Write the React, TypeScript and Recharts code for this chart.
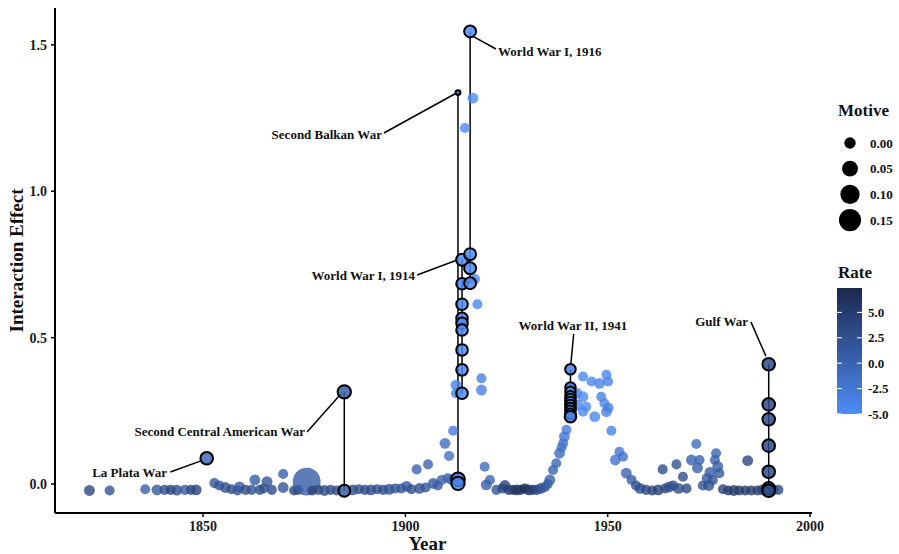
import { ScatterChart, Scatter, XAxis, YAxis, ZAxis, ReferenceLine, ReferenceDot, Label } from "recharts";

const FONT = '"Liberation Serif", "DejaVu Serif", serif';

// background points: year, interaction effect, rate, motive
const baseYears = [
  1821.9, 1826.9, 1835.7, 1838.6, 1840.5, 1842, 1843.5, 1845.5, 1847, 1848.3,
  1852.8, 1854, 1855.5, 1857, 1858.5, 1859, 1860.5, 1862, 1862.8, 1864, 1865, 1865.8, 1867, 1869.8, 1869.8,
  1872.5, 1873.5, 1875.6, 1877, 1878.5, 1880, 1881.5, 1883, 1887, 1888.5, 1890, 1891.5, 1893, 1894.5, 1896,
  1897.5, 1899, 1900.3, 1901.5, 1902.8, 1903.5, 1905, 1905.6, 1906.9, 1908, 1909, 1909.8, 1910.5, 1910.8, 1911.5, 1911.8,
  1914.7, 1916.7, 1917.2, 1917.8, 1912.5, 1912.5, 1918.8, 1918.8, 1919.6, 1920.9, 1920,
  1922.5, 1924, 1924.6, 1925.5, 1926.5, 1927.5, 1928.5, 1929.5, 1930.5, 1931.5, 1932.5, 1933.5, 1934.5,
  1935.2, 1935.7, 1936.5, 1937.3, 1938.1, 1938.6, 1939, 1939.3, 1939.8,
  1942.5, 1942.5, 1943.9, 1946, 1948, 1949.7, 1950.1, 1943.9, 1944.7, 1943.9, 1946.8, 1948.4, 1949.2, 1949.7, 1950.2,
  1950.9, 1951.9, 1952.9, 1953.8,
  1954.6, 1955.9, 1957, 1958, 1959.5, 1961, 1962.5, 1963.6, 1964.2, 1965.2, 1966.2, 1967, 1967.5, 1968.6, 1969.5,
  1970.7, 1971.9, 1972.7, 1972.2, 1973.5, 1974.5, 1975.3, 1976.8, 1976.5, 1977.2, 1977.6, 1976, 1975,
  1978.5, 1979.8, 1981.2, 1982.5, 1984, 1984.6, 1985.5, 1987, 1988.3, 1991, 1992.2,
];
const baseEffects = [
  -0.022, -0.022, -0.018, -0.02, -0.02, -0.02, -0.021, -0.02, -0.02, -0.02,
  0.003, -0.005, -0.012, -0.018, -0.022, -0.01, -0.02, -0.02, 0.014, -0.02, -0.015, 0.008, -0.02, 0.034, -0.012,
  -0.022, -0.02, 0.008, -0.022, -0.02, -0.022, -0.02, -0.022, -0.02, -0.018, -0.02, -0.02, -0.018, -0.02, -0.018,
  -0.015, -0.015, -0.008, -0.018, 0.05, -0.015, -0.012, 0.067, 0.002, -0.005, 0.014, 0.139, 0.02, 0.096, 0.015, 0.182,
  1.216, 1.318, 0.7, 0.614, 0.338, 0.31, 0.361, 0.321, 0.059, 0.014, -0.003,
  -0.02, -0.015, -0.005, -0.02, -0.02, -0.02, -0.02, -0.015, -0.02, -0.02, -0.02, -0.015, -0.01,
  0.0, 0.014, 0.048, 0.071, 0.105, 0.125, 0.139, 0.162, 0.185,
  0.31, 0.27, 0.367, 0.35, 0.344, 0.373, 0.35, 0.298, 0.264, 0.247, 0.23, 0.298, 0.276, 0.247, 0.26,
  0.182, 0.082, 0.11, 0.093,
  0.037, 0.014, -0.005, -0.015, -0.02, -0.022, -0.02, 0.05, -0.015, -0.01, -0.005, 0.067, -0.015, 0.025, -0.015,
  0.082, 0.137, 0.082, 0.055, -0.005, 0.02, 0.04, 0.105, 0.082, 0.06, 0.037, 0.014, -0.005,
  -0.018, -0.022, -0.022, -0.022, -0.022, 0.08, -0.022, -0.022, -0.02, -0.02, -0.02,
];
const baseRates = [
  3.5, 2, 0.5, 1.5, 2.5, 4, 3, 1, 3.5, 4,
  1.5, 2, 2.5, 3, 2, 1.5, 3, 2.5, 1, 3, 2.5, 2, 3, 0.5, 2,
  4, 3.5, 1, 4, 3.5, 3, 2.5, 3, 3, 2.5, 3, 3, 2.5, 3, 2.5,
  2, 2, 1.5, 2.5, 0, 2.5, 2, 0, 1.5, 1, 0.5, -1, 0, -1.5, -0.5, -3,
  -5, -5, -4.5, -4.5, -4, -4, -3.5, -3.5, -1, -0.5, 0.5,
  2, 3, 4, 5, 4, 6.5, 6, 7, 6.5, 5, 4, 3, 2,
  1, 0.5, 0, -0.5, -1, -1.5, -2, -2.5, -3,
  -4, -4.5, -4.5, -4.5, -4, -4.5, -4, -5, -5, -5, -4.5, -4, -4, -4, -3.5,
  -4, -2, -2.5, -2,
  0, 1, 2, 3, 3.5, 4, 4, 3, 3.5, 3, 3, 2, 3, 3, 3.5,
  0, -1, 0, 0.5, 2, 1.5, 1, 0, 0.5, 1, 1.5, 2, 2.5,
  4, 5, 5.5, 5, 5, 3.5, 5, 5, 4.5, 4, 3,
];
const baseMotives = baseYears.map((y, i) => (Math.abs(y - 1875.6) < 0.01 ? 0.27 : i % 3 === 0 ? -0.005 : -0.012));

// highlighted wars
const eventNames = [
  "La Plata War",
  "Second Central American War",
  "Second Balkan War",
  "World War I, 1914",
  "World War I, 1916",
  "World War II, 1941",
  "Gulf War",
];
const eventYears = [1850.9, 1884.9, 1913, 1914, 1916, 1940.8, 1989.8];
const eventRates = [-1, 0.5, -4, -5, -5, -4, 3];
const eventEffects = [
  [0.088],
  [0.315, -0.023],
  [1.337, 0.016, 0.002],
  [0.766, 0.684, 0.614, 0.566, 0.549, 0.526, 0.458, 0.39, 0.31],
  [1.546, 0.785, 0.737, 0.686],
  [0.392, 0.33, 0.315, 0.3, 0.29, 0.28, 0.27, 0.26, 0.25, 0.24, 0.23],
  [0.409, 0.272, 0.221, 0.131, 0.042, -0.015, -0.023],
];
const eventMotives = [
  [0.012],
  [0.02, 0.005],
  [-0.044, 0.025, 0.02],
  [0.005, 0.002, 0.002, 0.002, 0.002, 0.002, 0.002, 0.002, 0.002],
  [0.005, 0.005, 0.005, 0.005],
  [-0.008, -0.008, -0.008, -0.008, -0.008, -0.008, -0.008, -0.008, -0.008, -0.008, 0.002],
  [0.012, 0.012, 0.012, 0.012, 0.012, 0.012, 0.012],
];
// label anchor [year, effect], leader line start/end [year, effect], text anchor
const labelPos = [
  [1841.1, 0.041], [1875.2, 0.178], [1894.2, 1.193], [1902.4, 0.711], [1922.9, 1.479], [1941.4, 0.543], [1984.7, 0.554],
];
const leaderFrom = [
  [1841.9, 0.041], [1875.7, 0.178], [1894.7, 1.199], [1902.9, 0.714], [1916.5, 1.531], [1941.6, 0.513], [1985.4, 0.554],
];
const leaderTo = [
  [1849.5, 0.079], [1884.1, 0.308], [1912.3, 1.333], [1912.8, 0.765], [1922.4, 1.486], [1940.9, 0.41], [1989.1, 0.437],
];
const labelAnchor = ["end", "end", "end", "end", "start", "middle", "end"];

const xTicks = [1850, 1900, 1950, 2000];
const yTicks = [0, 0.5, 1.0, 1.5];
const motiveLegend = [0.0, 0.05, 0.1, 0.15];
const rateLegend = [5.0, 2.5, 0.0, -2.5, -5.0];

const RATE_MIN = -5;
const RATE_MAX = 7.4;
const LOW = [0x4e, 0x8b, 0xf5];
const HIGH = [0x1c, 0x29, 0x4d];

function rateColor(r: number) {
  const t = Math.max(0, Math.min(1, (r - RATE_MIN) / (RATE_MAX - RATE_MIN)));
  const c = LOW.map((l, i) => Math.round(l + (HIGH[i] - l) * t));
  return `rgb(${c[0]},${c[1]},${c[2]})`;
}

// motive -> circle area, linear (same mapping as ZAxis)
const M_DOMAIN = [-0.05, 0.3];
const AREA_RANGE = [7.85, 667.6];
function motiveRadius(m: number) {
  const a = AREA_RANGE[0] + ((m - M_DOMAIN[0]) / (M_DOMAIN[1] - M_DOMAIN[0])) * (AREA_RANGE[1] - AREA_RANGE[0]);
  return Math.sqrt(a / Math.PI);
}

const baseData = baseYears.map((year, i) => ({
  year,
  effect: baseEffects[i],
  rate: baseRates[i],
  motive: baseMotives[i],
}));

const eventData = eventYears.flatMap((year, i) =>
  eventEffects[i].map((effect, j) => ({ year, effect, rate: eventRates[i], motive: eventMotives[i][j] }))
);

const radiusOf = (p: any) => {
  if (typeof p.width === "number" && p.width > 0) return p.width / 2;
  return Math.sqrt(Math.max(p.size || 0, 0) / Math.PI);
};

const BaseDot = (p: any) => (
  <circle cx={p.cx} cy={p.cy} r={radiusOf(p)} fill={rateColor(p.payload.rate)} fillOpacity={0.8} />
);

const EventDot = (p: any) => (
  <circle
    cx={p.cx}
    cy={p.cy}
    r={radiusOf(p)}
    fill={rateColor(p.payload.rate)}
    fillOpacity={0.85}
    stroke="#000"
    strokeWidth={2}
  />
);

const tickStyle = { fontFamily: FONT, fontWeight: 700, fontSize: 14, fill: "#1a1a1a" };

const Legends = () => (
  <svg width={79} height={340} style={{ position: "absolute", left: 820, top: 90 }}>
    <text x={18} y={26} fontFamily={FONT} fontWeight={700} fontSize={17} fill="#111">
      Motive
    </text>
    {motiveLegend.map((m, i) => (
      <g key={m}>
        <circle cx={30} cy={53 + i * 25.7} r={motiveRadius(m)} fill="#000" />
        <text x={50} y={53 + i * 25.7} dy="0.35em" fontFamily={FONT} fontWeight={700} fontSize={13} fill="#111">
          {m.toFixed(2)}
        </text>
      </g>
    ))}
    <text x={18} y={188} fontFamily={FONT} fontWeight={700} fontSize={17} fill="#111">
      Rate
    </text>
    <defs>
      <linearGradient id="rateGrad" x1="0" y1="0" x2="0" y2="1">
        <stop offset="0%" stopColor={rateColor(RATE_MAX)} />
        <stop offset="100%" stopColor={rateColor(RATE_MIN)} />
      </linearGradient>
    </defs>
    <rect x={17} y={198} width={25} height={126} fill="url(#rateGrad)" />
    {rateLegend.map((r) => {
      const y = 324 - ((r - RATE_MIN) / (RATE_MAX - RATE_MIN)) * 126;
      return (
        <g key={r}>
          <line x1={17} x2={22} y1={y} y2={y} stroke="#fff" strokeWidth={1} />
          <line x1={37} x2={42} y1={y} y2={y} stroke="#fff" strokeWidth={1} />
          <text x={48} y={y} dy="0.35em" fontFamily={FONT} fontWeight={700} fontSize={13} fill="#111">
            {r.toFixed(1)}
          </text>
        </g>
      );
    })}
  </svg>
);

export default function App() {
  return (
    <div style={{ position: "relative", width: 899, height: 554, background: "#fff" }}>
      <style>{"body{margin:0}"}</style>
      <ScatterChart width={899} height={554} margin={{ top: 8, right: 87, bottom: 0, left: 0 }}>
        <XAxis
          type="number"
          dataKey="year"
          domain={[1813.4, 2000.5]}
          ticks={xTicks}
          allowDataOverflow
          height={41}
          axisLine={{ stroke: "#000", strokeWidth: 2 }}
          tickLine={{ stroke: "#000", strokeWidth: 1.5 }}
          tickSize={4}
          tickMargin={4}
          tick={tickStyle}
        >
          <Label
            content={(props: any) => {
              const vb = props.viewBox;
              return (
                <text x={vb.x + vb.width / 2 - 6} y={vb.y + 37} textAnchor="middle" fontFamily={FONT} fontWeight={700} fontSize={19} fill="#111">
                  Year
                </text>
              );
            }}
          />
        </XAxis>
        <YAxis
          type="number"
          dataKey="effect"
          domain={[-0.099, 1.626]}
          ticks={yTicks}
          allowDataOverflow
          width={55}
          axisLine={{ stroke: "#000", strokeWidth: 2 }}
          tickLine={{ stroke: "#000", strokeWidth: 1.5 }}
          tickSize={4}
          tickMargin={4}
          tick={tickStyle}
          tickFormatter={(v: number) => v.toFixed(1)}
        >
          <Label
            content={(props: any) => {
              const vb = props.viewBox;
              const cx = 16;
              const cy = vb.y + vb.height / 2;
              return (
                <text
                  x={cx}
                  y={cy}
                  textAnchor="middle"
                  dominantBaseline="central"
                  transform={`rotate(-90, ${cx}, ${cy})`}
                  fontFamily={FONT}
                  fontWeight={700}
                  fontSize={19}
                  fill="#111"
                >
                  Interaction Effect
                </text>
              );
            }}
          />
        </YAxis>
        <ZAxis type="number" dataKey="motive" domain={M_DOMAIN} range={AREA_RANGE} />
        <Scatter data={baseData} shape={BaseDot} isAnimationActive={false} />
        {eventYears.map((year, i) => (
          <ReferenceLine
            key={`v${i}`}
            segment={[
              { x: year, y: Math.max(...eventEffects[i]) },
              { x: year, y: Math.min(...eventEffects[i]) },
            ]}
            stroke="#000"
            strokeWidth={1.5}
          />
        ))}
        {eventNames.map((name, i) => (
          <ReferenceLine
            key={`l${i}`}
            segment={[
              { x: leaderFrom[i][0], y: leaderFrom[i][1] },
              { x: leaderTo[i][0], y: leaderTo[i][1] },
            ]}
            stroke="#000"
            strokeWidth={1.5}
          />
        ))}
        <Scatter data={eventData} shape={EventDot} isAnimationActive={false} />
        {eventNames.map((name, i) => (
          <ReferenceDot
            key={`t${i}`}
            x={labelPos[i][0]}
            y={labelPos[i][1]}
            r={0}
            shape={(p: any) => (
              <text
                x={p.cx}
                y={p.cy}
                dy="0.35em"
                textAnchor={labelAnchor[i]}
                fontFamily={FONT}
                fontWeight={700}
                fontSize={13}
                fill="#111"
              >
                {name}
              </text>
            )}
          />
        ))}
      </ScatterChart>
      <Legends />
    </div>
  );
}
